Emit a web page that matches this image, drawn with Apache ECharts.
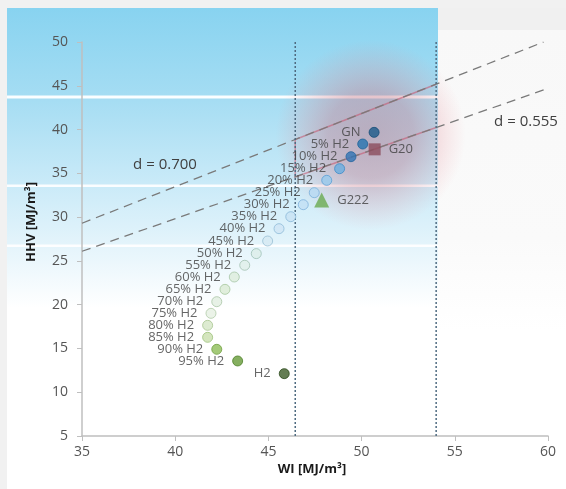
<!DOCTYPE html>
<html><head><meta charset="utf-8">
<script src="https://cdn.jsdelivr.net/npm/echarts@6/dist/echarts.min.js"></script>
<style>html,body{margin:0;padding:0;background:#f1f1f1;}#c{width:566px;height:489px;}</style>
</head><body><div id="c"></div>
<script>
// ---- data ----
const blendNames = ['GN','5% H2','10% H2','15% H2','20% H2','25% H2','30% H2','35% H2','40% H2','45% H2','50% H2','55% H2','60% H2','65% H2','70% H2','75% H2','80% H2','85% H2','90% H2','95% H2','H2'];
const blendWI  = [50.67, 50.06, 49.43, 48.82, 48.13, 47.46, 46.87, 46.20, 45.57, 44.96, 44.35, 43.73, 43.17, 42.67, 42.23, 41.92, 41.74, 41.74, 42.23, 43.35, 45.85];
const blendHHV = [39.68, 38.35, 36.90, 35.53, 34.20, 32.79, 31.42, 30.05, 28.68, 27.27, 25.83, 24.50, 23.16, 21.75, 20.34, 19.01, 17.64, 16.27, 14.90, 13.57, 12.12];
const refNames = ['G20','G222'];
const refWI  = [50.70, 47.86];
const refHHV = [37.74, 31.95];
const limitWI = [46.44, 54.0];
const yRange = [5, 50];
const xRange = [35, 60];
const lineD700 = [[35, 29.3], [59.76, 50]];
const lineD555 = [[35, 26.1], [60, 44.7]];
const zoneWI  = [46.44, 54.0, 54.0, 46.44];
const zoneHHV = [34.6, 40.23, 45.18, 38.85];
const dLabels = ['d = 0.700', 'd = 0.555'];

// ---- styles ----
const fillColors = ['#1b5a8a','#2574b0','#2f74b4','#6aaee0','#97c9ec','#b6d9f2','#c2dff4','#c8e2f4','#cfe5f5','#d4e8f3','#dcede9','#e0efe8','#dcecdb','#d9ead3','#e1ede0','#e6f0e2','#d5e6c6','#c9dfae','#8dbd58','#679b38','#3d5c28'];
const borderColors = ['#174e78','#1f6499','#27659e','#3f8cc8','#5a9fd4','#7ab0db','#7fb2dc','#8ab8d8','#90bcd8','#98bfd4','#9ec0b6','#a2c2b2','#a6c6a8','#a6c79e','#aac6a6','#b0cba8','#a7c690','#9dc27a','#6f9f3f','#4e7f28','#2c4a1c'];
const refColors = ['#8b4c5c','#6aaa50'];
const refSymbols = ['rect','triangle'];
const refSizes = [12, 15];
const FONT = 'Open Sans';

const chart = echarts.init(document.getElementById('c'));

const blendData = blendNames.map((n,i)=>({
  name:n, value:[blendWI[i], blendHHV[i]],
  itemStyle:{color:fillColors[i], borderColor:borderColors[i], borderWidth:1}
}));
const refData = refNames.map((n,i)=>({
  name:n, value:[refWI[i], refHHV[i]],
  symbol:refSymbols[i], symbolSize:refSizes[i],
  itemStyle:{color:refColors[i]}
}));

const vLines = limitWI.map(w=>({
  type:'line', data:[[w, yRange[0]],[w, yRange[1]]], symbol:'none', silent:true, z:3,
  lineStyle:{color:'#4f6b80', width:1.5, type:[2,2]}
}));

const option = {
  animation:false,
  backgroundColor:'transparent',
  grid:{left:82, right:18, top:42, bottom:53},
  xAxis:{type:'value', min:xRange[0], max:xRange[1], interval:5,
    axisLine:{show:true, onZero:false, lineStyle:{color:'#bfbfbf', width:1.5}},
    axisTick:{show:true, length:5, lineStyle:{color:'#bfbfbf'}},
    axisLabel:{color:'#555', fontSize:14, margin:9, fontFamily:FONT},
    splitLine:{show:false}},
  yAxis:{type:'value', min:yRange[0], max:yRange[1], interval:5,
    axisLine:{show:true, onZero:false, lineStyle:{color:'#bfbfbf', width:1.5}},
    axisTick:{show:true, length:5, lineStyle:{color:'#bfbfbf'}},
    axisLabel:{color:'#555', fontSize:14, margin:14, fontFamily:FONT},
    splitLine:{show:false}},
  graphic:[
    {type:'rect', z:0, shape:{x:7,y:8,width:559,height:481}, style:{fill:'#ffffff'}},
    {type:'rect', z:0, shape:{x:438,y:8,width:128,height:22}, style:{fill:'#f0f0f0'}},
    {type:'rect', z:0, shape:{x:438,y:30,width:128,height:300}, style:{fill:new echarts.graphic.LinearGradient(0,0,0,1,[
      {offset:0,color:'#f8f8f8'},{offset:0.7,color:'#fafafa'},{offset:1,color:'#ffffff'}])}},
    {type:'rect', z:0, shape:{x:7,y:8,width:431,height:300}, style:{fill:new echarts.graphic.LinearGradient(0,0,0,1,[
      {offset:0,color:'#88d3f0'},{offset:0.31,color:'#a6ddf3'},{offset:0.58,color:'#c9eaf8'},{offset:0.79,color:'#e4f4fb'},{offset:1,color:'#ffffff'}])}},
    {type:'rect', z:0, shape:{x:7,y:95.5,width:431,height:3}, style:{fill:'rgba(255,255,255,0.95)'}},
    {type:'rect', z:0, shape:{x:7,y:184.5,width:431,height:2.5}, style:{fill:'rgba(255,255,255,0.9)'}},
    {type:'rect', z:0, shape:{x:7,y:244.5,width:431,height:2.5}, style:{fill:'rgba(255,255,255,0.9)'}},
    {type:'text', z:10, x:165, y:165, style:{text:dLabels[0], fill:'#404040', font:'15px "Open Sans"', textAlign:'center', textVerticalAlign:'middle'}},
    {type:'text', z:10, x:526, y:122, style:{text:dLabels[1], fill:'#404040', font:'15px "Open Sans"', textAlign:'center', textVerticalAlign:'middle'}},
    {type:'text', z:10, x:312, y:469, style:{text:'WI [MJ/m³]', fill:'#1a1a1a', font:'bold 13px "Open Sans"', textAlign:'center', textVerticalAlign:'middle'}},
    {type:'text', z:10, x:31, y:222, rotation:Math.PI/2, style:{text:'HHV [MJ/m³]', fill:'#1a1a1a', font:'bold 13px "Open Sans"', textAlign:'center', textVerticalAlign:'middle'}}
  ],
  series:[
    {type:'custom', z:1, clip:false, silent:true, data:[0],
      renderItem:(params, api)=>{
        const pts = zoneWI.map((w,i)=>api.coord([w, zoneHHV[i]]));
        const cx = pts.reduce((s,p)=>s+p[0],0)/pts.length;
        const cy = pts.reduce((s,p)=>s+p[1],0)/pts.length;
        const ang = Math.atan2(pts[0][1]-pts[1][1], pts[1][0]-pts[0][0]);
        return {type:'group', children:[
          {type:'ellipse', x:cx+5, y:cy+3, rotation:ang, shape:{cx:0, cy:0, rx:170, ry:95},
            style:{fill:new echarts.graphic.RadialGradient(0.5,0.5,0.5,[
              {offset:0, color:'rgba(190,115,132,0.48)'},
              {offset:0.45, color:'rgba(200,115,132,0.40)'},
              {offset:0.75, color:'rgba(225,125,138,0.18)'},
              {offset:1, color:'rgba(240,135,145,0)'}])}},
          {type:'polyline', shape:{points:[pts[2],pts[3],pts[0],pts[1]]}, style:{fill:null, stroke:'rgba(200,80,105,0.55)', lineWidth:1.5}}
        ]};
      }},
    {type:'line', data:lineD700, symbol:'none', silent:true, z:3, lineStyle:{color:'#7a7a7a', width:1.3, type:[9,6]}},
    {type:'line', data:lineD555, symbol:'none', silent:true, z:3, lineStyle:{color:'#7a7a7a', width:1.3, type:[9,6]}},
    ...vLines,
    {type:'scatter', z:5, data:blendData, symbolSize:10,
      label:{show:true, position:'left', distance:8, formatter:'{b}', fontSize:13, color:'#404040', fontFamily:FONT}},
    {type:'scatter', z:5, data:refData,
      label:{show:true, position:'right', distance:8, formatter:'{b}', fontSize:13, color:'#404040', fontFamily:FONT}}
  ]
};
chart.setOption(option);
</script>
</body></html>
